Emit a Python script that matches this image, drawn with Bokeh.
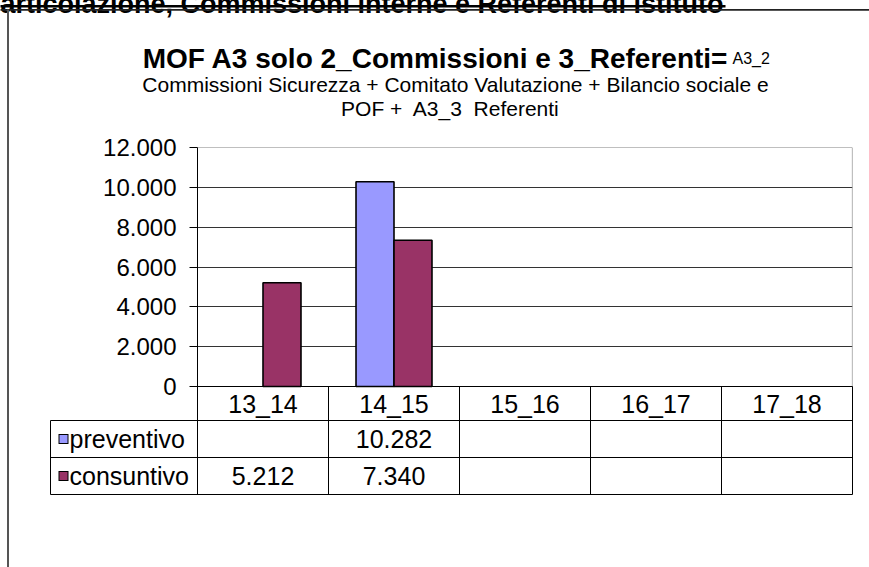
from bokeh.plotting import figure
from bokeh.models import Range1d, FixedTicker, ColumnDataSource
from bokeh.core.properties import value
from bokeh.embed import file_html
from bokeh.resources import INLINE

# ---------------- data ----------------
categories = ["13_14", "14_15", "15_16", "16_17", "17_18"]
preventivo = [None, 10282, None, None, None]
consuntivo = [5212, 7340, None, None, None]
series_names = ["preventivo", "consuntivo"]
series_colors = ["#9999FF", "#993366"]
y_ticks = [0, 2000, 4000, 6000, 8000, 10000, 12000]
y_tick_labels = ["0", "2.000", "4.000", "6.000", "8.000", "10.000", "12.000"]
heading = "articolazione, Commissioni interne e Referenti di istituto"
title_main = "MOF A3 solo 2_Commissioni e 3_Referenti="
title_small = "A3_2"
subtitle_lines = ["Commissioni Sicurezza + Comitato Valutazione + Bilancio sociale e",
                  "POF +\u00a0 A3_3\u00a0 Referenti"]

FONT = value("Liberation Sans")

def fmt(v):
    return "" if v is None else f"{v:,}".replace(",", ".")

# ---------------- layout constants (pixels) ----------------
W, H = 869, 567
FL, FR, FT, FB = 197, 852, 147, 494          # frame edges in canvas px
PLOT_PX = 239                                 # px height of 0..12000
ZERO_PX = FT + PLOT_PX                        # canvas y of the value 0
HEAD_PX, ROW_PX = 34, 37
LEG_LEFT = 50
ncat = len(categories)
px_per_cat = (FR - FL) / ncat
upp = max(y_ticks) / PLOT_PX                  # value units per pixel
y_min = -(FB - ZERO_PX) * upp

def X(px):   # canvas px -> x units
    return (px - FL) / px_per_cat

def Y(py):   # canvas px -> y units
    return (ZERO_PX - py) * upp

p = figure(width=W, height=H, output_backend="svg", toolbar_location=None,
           x_range=Range1d(0, ncat), y_range=Range1d(y_min, max(y_ticks)),
           x_axis_location=None, title=None,
           min_border_left=FL, min_border_right=W - FR,
           min_border_top=FT, min_border_bottom=H - FB)
p.outline_line_color = None
p.background_fill_color = "white"
p.border_fill_color = "white"

# y axis
ax = p.yaxis[0]
ax.ticker = FixedTicker(ticks=y_ticks)
ax.major_label_overrides = {t: l for t, l in zip(y_ticks, y_tick_labels)}
ax.minor_tick_line_color = None
ax.major_tick_in = 0
ax.major_tick_out = 8
ax.major_label_standoff = 13
ax.major_label_text_font = "Liberation Sans"
ax.major_label_text_font_size = "24px"
ax.major_label_text_color = "black"
ax.axis_line_color = "black"
ax.major_tick_line_color = "black"

p.xgrid.visible = False
p.ygrid.grid_line_color = "#333333"
p.ygrid.grid_line_width = 1

# plot area top/right border (gray)
p.segment(x0=[0, ncat], y0=[max(y_ticks), 0], x1=[ncat, ncat], y1=[max(y_ticks), max(y_ticks)],
          line_color="#808080", line_width=1.2)

# ---------------- bars ----------------
bw = 0.29
for k, (vals, col) in enumerate(zip([preventivo, consuntivo], series_colors)):
    idx = [i for i, v in enumerate(vals) if v is not None]
    if k == 0:
        left = [i + 0.5 - bw for i in idx]
        right = [i + 0.5 for i in idx]
    else:
        left = [i + 0.5 for i in idx]
        right = [i + 0.5 + bw for i in idx]
    src = ColumnDataSource(dict(left=left, right=right, top=[vals[i] for i in idx],
                                bottom=[0] * len(idx)))
    p.quad(left="left", right="right", top="top", bottom="bottom", source=src,
           fill_color=col, line_color="black", line_width=1.6)

# ---------------- data table ----------------
y_head_bot = -HEAD_PX * upp
y_r1_bot = -(HEAD_PX + ROW_PX) * upp
y_r2_bot = y_min
x_leg = X(LEG_LEFT)

vx = list(range(ncat + 1))
r = p.segment(x0=vx, y0=[0] * len(vx), x1=vx, y1=[y_r2_bot] * len(vx),
              line_color="black", line_width=1)
r.level = "annotation"
r = p.segment(x0=[0, x_leg, x_leg, x_leg], y0=[0, y_head_bot, y_r1_bot, y_r2_bot],
              x1=[ncat] * 4, y1=[0, y_head_bot, y_r1_bot, y_r2_bot],
              line_color="black", line_width=1)
r.level = "annotation"
r = p.segment(x0=[x_leg], y0=[y_head_bot], x1=[x_leg], y1=[y_r2_bot],
              line_color="black", line_width=1)
r.level = "annotation"

p.text(x=[i + 0.5 for i in range(ncat)], y=[y_head_bot / 2] * ncat, text=categories,
       text_align="center", text_baseline="middle", text_font=FONT,
       text_font_size="25px", text_color="black")
row_y = [(y_head_bot + y_r1_bot) / 2, (y_r1_bot + y_r2_bot) / 2]
for vals, yy in zip([preventivo, consuntivo], row_y):
    p.text(x=[i + 0.5 for i in range(ncat)], y=[yy] * ncat, text=[fmt(v) for v in vals],
           text_align="center", text_baseline="middle", text_font=FONT,
           text_font_size="25px", text_color="black")

# legend swatches (drawn as short thick segments) + names
r = p.segment(x0=[X(58)] * 2, y0=row_y, x1=[X(68)] * 2, y1=row_y,
              line_color="black", line_width=10, line_cap="butt")
r.level = "annotation"
r = p.segment(x0=[X(59)] * 2, y0=row_y, x1=[X(67)] * 2, y1=row_y,
              line_color=series_colors, line_width=8, line_cap="butt")
r.level = "annotation"
lt = p.text(x=[X(69)] * 2, y=row_y, text=series_names,
            text_align="left", text_baseline="middle", text_font=FONT,
            text_font_size="25px", text_color="black")
lt.level = "annotation"

# ---------------- titles ----------------
t = p.text(x=[X(728)], y=[Y(58)], text=[title_main], text_align="right",
           text_baseline="alphabetic", text_font=FONT, text_font_style="bold",
           text_font_size="28px", text_color="black")
t.level = "annotation"
t = p.text(x=[X(732)], y=[Y(58)], text=[title_small], text_align="left",
           text_baseline="alphabetic", text_font=FONT,
           text_font_size="16px", text_color="black")
t.level = "annotation"
t = p.text(x=[X(455), X(450)], y=[Y(84), Y(108)], text=subtitle_lines, text_align="center",
           text_baseline="alphabetic", text_font=FONT,
           text_font_size="21px", text_color="black")
t.level = "annotation"

# heading of the page (cut off at the top in the reference) + underline
t = p.text(x=[X(723)], y=[Y(3.5)], text=[heading], text_align="right",
           text_baseline="alphabetic", text_font=FONT, text_font_style="bold",
           text_font_size="27px", text_color="black")
t.level = "annotation"
r = p.segment(x0=[X(0)], y0=[Y(5.7)], x1=[X(725)], y1=[Y(5.7)],
              line_color="black", line_width=2.5)
r.level = "annotation"
# chart box border: top and left
r = p.segment(x0=[X(0), X(7.5)], y0=[Y(9.3), Y(9)], x1=[X(W), X(7.5)], y1=[Y(9.3), Y(H)],
              line_color=["#222222", "#555555"], line_width=[1.8, 2])
r.level = "annotation"

open("out.html", "w").write(file_html(p, INLINE))
